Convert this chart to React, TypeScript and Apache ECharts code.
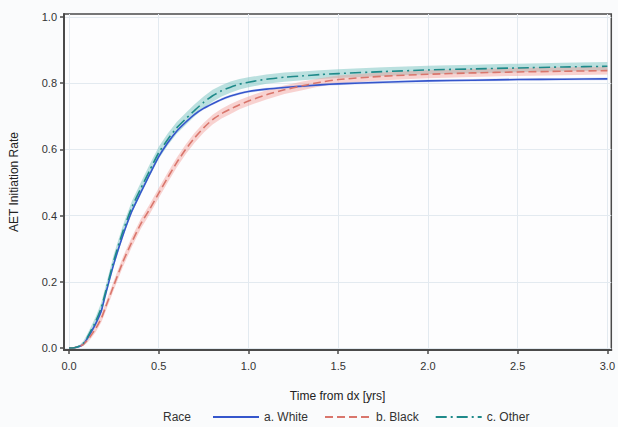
import React, { useEffect, useRef } from "react";
import * as echarts from "echarts";

const TIMES = [0, 0.03, 0.06, 0.08, 0.1, 0.12, 0.15, 0.18, 0.2, 0.25, 0.3, 0.35, 0.4, 0.45, 0.5, 0.55, 0.6, 0.65, 0.7, 0.75, 0.8, 0.85, 0.9, 0.95, 1.0, 1.1, 1.2, 1.3, 1.4, 1.5, 1.75, 2.0, 2.25, 2.5, 2.75, 3.0];
const WHITE = [0, 0.001, 0.005, 0.012, 0.027, 0.045, 0.075, 0.112, 0.155, 0.255, 0.34, 0.413, 0.47, 0.525, 0.578, 0.62, 0.655, 0.682, 0.706, 0.724, 0.738, 0.751, 0.761, 0.769, 0.775, 0.782, 0.787, 0.791, 0.795, 0.798, 0.803, 0.807, 0.809, 0.811, 0.812, 0.813];
const BLACK = [0, 0.001, 0.005, 0.011, 0.022, 0.036, 0.06, 0.09, 0.118, 0.19, 0.26, 0.32, 0.375, 0.42, 0.468, 0.515, 0.56, 0.6, 0.635, 0.665, 0.69, 0.708, 0.722, 0.735, 0.746, 0.765, 0.78, 0.792, 0.803, 0.811, 0.821, 0.827, 0.831, 0.834, 0.836, 0.838];
const OTHER = [0, 0.001, 0.006, 0.014, 0.03, 0.05, 0.082, 0.122, 0.162, 0.265, 0.352, 0.425, 0.482, 0.537, 0.59, 0.63, 0.665, 0.692, 0.718, 0.742, 0.762, 0.777, 0.788, 0.797, 0.803, 0.812, 0.818, 0.822, 0.826, 0.829, 0.835, 0.84, 0.843, 0.846, 0.849, 0.851];

// confidence-band half widths
const WHITE_CI = [0, 0.001, 0.002, 0.003, 0.003, 0.004, 0.004, 0.004, 0.004, 0.004, 0.004, 0.004, 0.004, 0.004, 0.004, 0.004, 0.004, 0.004, 0.004, 0.004, 0.004, 0.004, 0.004, 0.004, 0.004, 0.004, 0.004, 0.004, 0.004, 0.004, 0.004, 0.004, 0.004, 0.004, 0.004, 0.004];
const BLACK_CI = [0, 0.001, 0.003, 0.005, 0.007, 0.009, 0.011, 0.012, 0.013, 0.014, 0.015, 0.015, 0.015, 0.015, 0.015, 0.015, 0.015, 0.015, 0.015, 0.015, 0.015, 0.015, 0.015, 0.014, 0.014, 0.014, 0.013, 0.013, 0.012, 0.012, 0.012, 0.012, 0.012, 0.012, 0.012, 0.012];
const OTHER_CI = [0, 0.002, 0.004, 0.007, 0.01, 0.012, 0.014, 0.016, 0.017, 0.018, 0.018, 0.018, 0.018, 0.018, 0.018, 0.018, 0.018, 0.018, 0.018, 0.018, 0.018, 0.017, 0.017, 0.016, 0.015, 0.014, 0.014, 0.013, 0.013, 0.013, 0.013, 0.013, 0.013, 0.013, 0.013, 0.013];

const X_TICKS = [0, 0.5, 1.0, 1.5, 2.0, 2.5, 3.0];
const Y_TICKS = [0, 0.2, 0.4, 0.6, 0.8, 1.0];
const SERIES_NAMES = ["a. White", "b. Black", "c. Other"];

const FONT = "'Liberation Sans', Arial, sans-serif";

function bandSeries(vals: number[], ci: number[], color: string) {
  const rows = TIMES.map((t, i) => [t, vals[i] - ci[i], vals[i] + ci[i]]);
  return {
    type: "custom",
    silent: true,
    z: 1,
    data: rows,
    encode: { x: 0, y: [1, 2] },
    clip: true,
    renderItem: (params: any, api: any) => {
      if (params.dataIndex !== 0) return { type: "group", children: [] };
      const upper = rows.map((r) => api.coord([r[0], r[2]]));
      const lower = rows.map((r) => api.coord([r[0], r[1]])).reverse();
      return {
        type: "polygon",
        shape: { points: upper.concat(lower), smooth: 0 },
        style: { fill: color, stroke: null },
      };
    },
  };
}

function lineSeries(name: string, vals: number[], color: string, type: any) {
  return {
    type: "line",
    name,
    z: 3,
    data: TIMES.map((t, i) => [t, vals[i]]),
    showSymbol: false,
    symbol: "none",
    smooth: 0.2,
    lineStyle: { color, width: 1.6, type },
    itemStyle: { color },
  };
}

export default function App() {
  const ref = useRef<HTMLDivElement>(null);
  useEffect(() => {
    const chart = echarts.init(ref.current!, null, { renderer: "svg" });
    chart.setOption({
      animation: false,
      backgroundColor: "#fafbfc",
      textStyle: { fontFamily: FONT },
      grid: {
        left: 64,
        right: 5,
        top: 14,
        bottom: 77,
        show: true,
        backgroundColor: "#fdfdfe",
        borderColor: "#4a4a4a",
        borderWidth: 1.5,
      },
      xAxis: {
        type: "value",
        min: -0.028,
        max: 3.022,
        name: "Time from dx [yrs]",
        nameLocation: "middle",
        nameGap: 40,
        nameTextStyle: { fontSize: 12, color: "#222", fontFamily: FONT },
        axisLine: { show: true, onZero: false, lineStyle: { color: "#4a4a4a", width: 2 } },
        axisTick: { show: true, length: 4, customValues: X_TICKS, lineStyle: { color: "#4a4a4a", width: 1.5 } },
        axisLabel: {
          customValues: X_TICKS,
          margin: 10,
          fontSize: 11,
          color: "#333",
          fontFamily: FONT,
          formatter: (v: number) => v.toFixed(1),
        },
        splitLine: { show: true, lineStyle: { color: "#e3eaf0", width: 1 } },
      },
      yAxis: {
        type: "value",
        min: -0.006,
        max: 1.009,
        name: "AET Initiation Rate",
        nameLocation: "middle",
        nameGap: 44,
        nameTextStyle: { fontSize: 12, color: "#222", fontFamily: FONT },
        axisLine: { show: true, onZero: false, lineStyle: { color: "#4a4a4a", width: 2 } },
        axisTick: { show: true, length: 4, customValues: Y_TICKS, lineStyle: { color: "#4a4a4a", width: 1.5 } },
        axisLabel: {
          customValues: Y_TICKS,
          margin: 7,
          fontSize: 11,
          color: "#333",
          fontFamily: FONT,
          formatter: (v: number) => v.toFixed(1),
        },
        splitLine: { show: true, lineStyle: { color: "#e3eaf0", width: 1 } },
      },
      legend: {
        data: SERIES_NAMES,
        left: 207,
        top: 406,
        itemWidth: 46,
        itemHeight: 14,
        itemGap: 16,
        itemStyle: { opacity: 0 },
        textStyle: { fontSize: 12, color: "#333", fontFamily: FONT },
      },
      graphic: [
        {
          type: "text",
          left: 163,
          top: 411,
          style: { text: "Race", fontSize: 12, fill: "#333", font: "12px " + FONT },
        },
      ],
      series: [
        bandSeries(OTHER, OTHER_CI, "rgba(120,196,192,0.5)"),
        bandSeries(BLACK, BLACK_CI, "rgba(240,150,145,0.42)"),
        bandSeries(WHITE, WHITE_CI, "rgba(140,160,230,0.3)"),
        lineSeries(SERIES_NAMES[0], WHITE, "#3556cc", "solid"),
        lineSeries(SERIES_NAMES[1], BLACK, "#d9766c", [8, 4]),
        lineSeries(SERIES_NAMES[2], OTHER, "#1f8a8a", [11, 4, 2, 4]),
      ],
    });
    return () => chart.dispose();
  }, []);
  return (
    <div
      ref={ref}
      style={{ position: "fixed", left: 0, top: 0, width: 618, height: 427 }}
    />
  );
}
